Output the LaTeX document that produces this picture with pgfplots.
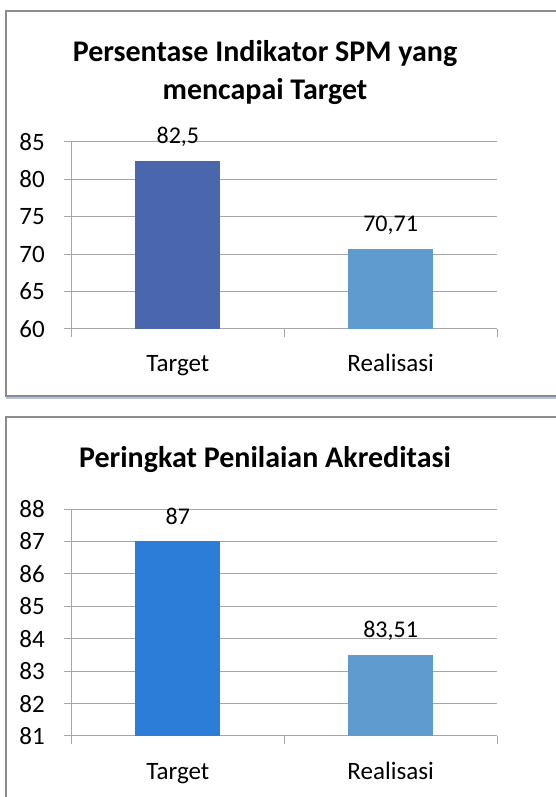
\documentclass[border=0pt]{standalone}
\usepackage{fontspec}
\setmainfont{Carlito}
\usepackage{pgfplots}
\pgfplotsset{compat=1.18}
\definecolor{barA}{HTML}{4A67AD}
\definecolor{barB}{HTML}{5F9BCF}
\definecolor{barC}{HTML}{2B7DD8}
\definecolor{gridc}{HTML}{A6A6A6}
\definecolor{framec}{HTML}{8C8C8C}
\definecolor{shadowc}{HTML}{B6C3D8}
\pgfplotsset{
  mybar/.style={
    scale only axis, width=425.5pt,
    anchor=south west,
    xmin=-0.5, xmax=1.5,
    xtick={0,1}, xticklabels={Target,Realisasi},
    major x tick style={draw=none},
    minor xtick={-0.5,0.5,1.5},
    minor x tick style={draw=gridc, line width=1pt},
    axis x line=bottom, axis y line=left,
    axis line style={-, draw=gridc, line width=1pt},
    tick align=outside,
    major tick length=8pt, minor tick length=8pt,
    ytick style={draw=gridc, line width=1pt},
    ymajorgrids, grid style={draw=gridc, line width=1pt},
    /pgf/number format/.cd, use comma, assume math mode=true, 1000 sep={}, /pgfplots/.cd,
    tick label style={font=\fontsize{25}{30}\selectfont},
    yticklabel style={anchor=east, inner sep=0pt, xshift=-18.5pt},
    xticklabel style={anchor=base, inner sep=0pt, yshift=-35pt},
    ybar, bar width=85pt, bar shift=0pt,
    nodes near coords,
    every node near coord/.append style={font=\fontsize{24}{29}\selectfont, anchor=base, inner sep=0pt, yshift=17pt},
    clip=false,
  }
}
\begin{document}
\begin{tikzpicture}[x=1pt,y=1pt]
\useasboundingbox (0pt,0pt) rectangle (555pt,797pt);
% frames
\draw[shadowc, line width=2pt] (6pt,399pt) -- (560pt,399pt);
\draw[framec, line width=1.2pt] (560pt,786pt) -- (6pt,786pt) -- (6pt,401pt) -- (560pt,401pt);
\draw[framec, line width=1.2pt] (560pt,380pt) -- (6pt,380pt) -- (6pt,-5pt);
% titles
\node[anchor=base, font=\fontsize{30}{36}\selectfont\bfseries] at (265pt,735pt) {Persentase Indikator SPM yang};
\node[anchor=base, font=\fontsize{30}{36}\selectfont\bfseries] at (265pt,697pt) {mencapai Target};
\node[anchor=base, font=\fontsize{30}{36}\selectfont\bfseries] at (265pt,329pt) {Peringkat Penilaian Akreditasi};
\begin{axis}[mybar, at={(71.5pt,468pt)}, height=187pt, ymin=60, ymax=85, ytick={60,65,...,85}]
  \addplot[fill=barA, draw=none] coordinates {(0,82.5)};
  \addplot[fill=barB, draw=none] coordinates {(1,70.71)};
\end{axis}
\begin{axis}[mybar, at={(71.5pt,61pt)}, height=227pt, ymin=81, ymax=88, ytick={81,82,...,88}]
  \addplot[fill=barC, draw=none] coordinates {(0,87)};
  \addplot[fill=barB, draw=none] coordinates {(1,83.51)};
\end{axis}
\end{tikzpicture}
\end{document}
